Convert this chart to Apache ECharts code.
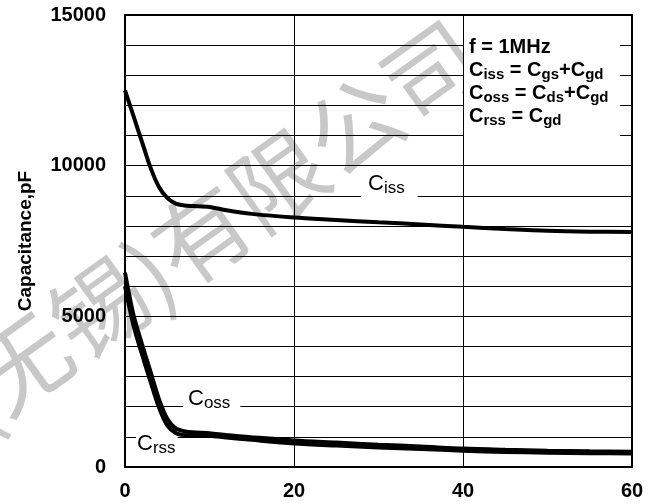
<!DOCTYPE html>
<html>
<head>
<meta charset="utf-8">
<script src="https://cdn.jsdelivr.net/npm/echarts@6/dist/echarts.min.js"></script>
<style>html,body{margin:0;padding:0;background:#fff}#c{width:657px;height:504px}</style>
</head>
<body>
<div id="c"></div>
<script>
// Data
var vds = [0,1,2,3,4,5,6,7,8,10,12,15,20,25,30,35,40,45,50,55,60];
var ciss = [12500,11650,10800,9950,9300,8930,8740,8680,8660,8630,8520,8400,8280,8200,8120,8050,7970,7900,7840,7810,7800];
var coss = [6450,5050,4090,3180,2270,1600,1280,1190,1150,1120,1060,990,880,810,740,680,610,570,540,520,510];
var crss = [6000,4700,3750,2850,1990,1380,1130,1060,1050,1040,980,900,780,710,650,600,540,500,475,460,450];
var xTicks = [0,20,40,60];
var yTicks = [0,5000,10000,15000];

function pairs(ys){ return vds.map(function(x,i){ return [x, ys[i]]; }); }

var FONT = '"Liberation Sans", Arial, sans-serif';
var chart = echarts.init(document.getElementById('c'), null, {renderer:'canvas'});
var subRich = {
  m: {fontSize: 20, fontWeight: 'bold', fontFamily: FONT, lineHeight: 23, color:'#000'},
  s: {fontSize: 15, fontWeight: 'bold', fontFamily: FONT, lineHeight: 10, verticalAlign: 'bottom', color:'#000'}
};
var labRich = {
  m: {fontSize: 22, fontFamily: FONT, lineHeight: 26, color:'#000'},
  s: {fontSize: 17, fontFamily: FONT, lineHeight: 12, verticalAlign: 'bottom', color:'#000'}
};
var option = {
  backgroundColor: '#fff',
  animation: false,
  grid: {left: 125, right: 25, top: 15, bottom: 37, show: true, borderColor: '#000', borderWidth: 2, backgroundColor: 'transparent'},
  xAxis: {
    type: 'value', min: 0, max: 60, interval: 20,
    axisLine: {show: true, lineStyle: {color: '#000', width: 2}},
    axisTick: {show: false},
    axisLabel: {color: '#000', fontSize: 20, fontWeight: 'bold', fontFamily: FONT, margin: 14,
      formatter: function(v){ return xTicks.indexOf(v) >= 0 ? String(v) : ''; }},
    splitLine: {show: true, lineStyle: {color: '#000', width: 1}}
  },
  yAxis: [{
    type: 'value', min: 0, max: 15000, interval: 5000, position: 'left',
    name: 'Capacitance,pF', nameLocation: 'middle', nameGap: 90, nameRotate: 90,
    nameTextStyle: {color: '#000', fontSize: 19, fontWeight: 'bold', fontFamily: FONT},
    axisLine: {show: true, lineStyle: {color: '#000', width: 2}},
    axisTick: {show: false},
    axisLabel: {color: '#000', fontSize: 20, fontWeight: 'bold', fontFamily: FONT, margin: 19,
      formatter: function(v){ return yTicks.indexOf(v) >= 0 ? String(v) : ''; }},
    splitLine: {show: false}
  }, {
    type: 'value', min: 0, max: 15000, interval: 1000, position: 'left',
    axisLine: {show: false}, axisTick: {show: false}, axisLabel: {show: false},
    splitLine: {show: true, lineStyle: {color: '#000', width: 1}}
  }],
  series: [
    {name: 'Ciss', type: 'line', data: pairs(ciss), showSymbol: false, smooth: 0.3, z: 20,
     lineStyle: {color: '#000', width: 4}},
    {name: 'Coss', type: 'line', data: pairs(coss), showSymbol: false, smooth: 0.3, z: 20,
     lineStyle: {color: '#000', width: 4}},
    {name: 'Crss', type: 'line', data: pairs(crss), showSymbol: false, smooth: 0.3, z: 20,
     lineStyle: {color: '#000', width: 4}}
  ],
  graphic: [
    {type: 'text', z: -5, x: 214, y: 226, rotation: 0.62,
     style: {text: '(无锡)有限公司', fill: '#c8c8c8', font: '400 94px "Noto Sans CJK SC"', textAlign: 'center', textVerticalAlign: 'middle'}},
    {type: 'rect', z: 5, shape: {x: 464, y: 30, width: 156, height: 122}, style: {fill: '#fff'}},
    {type: 'text', z: 6, x: 469, y: 36,
     style: {text: '{m|f = 1MHz}\n{m|C}{s|iss}{m| = C}{s|gs}{m|+C}{s|gd}\n{m|C}{s|oss}{m| = C}{s|ds}{m|+C}{s|gd}\n{m|C}{s|rss}{m| = C}{s|gd}',
             rich: subRich, fill: '#000'}},
    {type: 'text', z: 6, x: 361, y: 171,
     style: {text: '{m|C}{s|iss}', rich: labRich, fill: '#000', backgroundColor: '#fff', padding: [0, 13, 0, 7]}},
    {type: 'text', z: 6, x: 183, y: 386,
     style: {text: '{m|C}{s|oss}', rich: labRich, fill: '#000', backgroundColor: '#fff', padding: [0, 10, 0, 5]}},
    {type: 'text', z: 6, x: 136, y: 431,
     style: {text: '{m|C}{s|rss}', rich: labRich, fill: '#000', backgroundColor: '#fff', padding: [0, 2, 0, 1]}}
  ]
};
chart.setOption(option);
</script>
</body>
</html>
